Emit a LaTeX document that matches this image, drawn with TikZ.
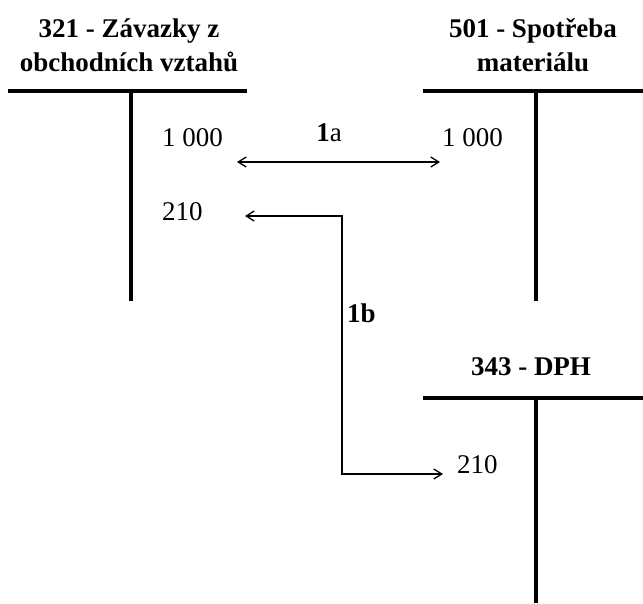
\documentclass[tikz,border=0pt]{standalone}
\usepackage{fontspec}
\setmainfont{Liberation Serif}
\usetikzlibrary{arrows.meta}
\begin{document}
\begin{tikzpicture}[x=1pt,y=-1pt,
  tacct/.style={line width=4pt},
  title/.style={font=\fontsize{27}{34}\selectfont\bfseries, align=center, inner sep=0pt},
  amount/.style={font=\fontsize{27}{34}\selectfont, inner sep=0pt, anchor=west},
  lbl/.style={font=\fontsize{27}{34}\selectfont, inner sep=0pt},
  dconn/.style={line width=1.3pt, {Straight Barb[length=8pt,width=10pt]}-{Straight Barb[length=8pt,width=10pt]}}]
\useasboundingbox (0,0) rectangle (643,603);
% T accounts
\coordinate (L1) at (8,91); \coordinate (L2) at (247,91);
\coordinate (Lt) at (131,91); \coordinate (Lb) at (131,301);
\draw[tacct] (L1) -- (L2); \draw[tacct] (Lt) -- (Lb);
\coordinate (R1) at (423,91); \coordinate (R2) at (643,91);
\coordinate (Rt) at (536,91); \coordinate (Rb) at (536,301);
\draw[tacct] (R1) -- (R2); \draw[tacct] (Rt) -- (Rb);
\coordinate (D1) at (423,398); \coordinate (D2) at (643,398);
\coordinate (Dt) at (536,398); \coordinate (Db) at (536,603);
\draw[tacct] (D1) -- (D2); \draw[tacct] (Dt) -- (Db);
% titles
\node[title] (t321) at (129,45) {321 - Závazky z\\obchodních vztahů};
\node[title] (t501) at (533,45) {501 - Spotřeba\\materiálu};
\node[title] (t343) at (531,367) {343 - DPH};
% amounts
\node[amount] (a1) at (162,138) {1 000};
\node[amount] (a2) at (442,138) {1 000};
\node[amount] (a3) at (162,212) {210};
\node[amount] (a4) at (457,465) {210};
% labels
\node[lbl] (l1a) at (329,133) {\textbf{1}a};
\node[lbl, anchor=west] (l1b) at (347,313) {\textbf{1b}};
% connectors
\coordinate (c1) at (237,162); \coordinate (c2) at (440,162);
\draw[dconn] (c1) -- (c2);
\coordinate (b1) at (443,474); \coordinate (b2) at (342,474);
\coordinate (b3) at (342,216); \coordinate (b4) at (245,216);
\draw[dconn] (b4) -- (b3) -- (b2) -- (b1);
\end{tikzpicture}
\end{document}
